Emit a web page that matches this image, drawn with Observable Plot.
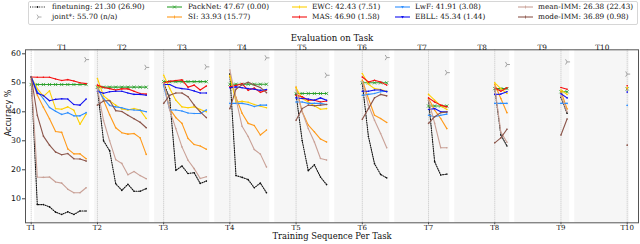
<!DOCTYPE html>
<html><head><meta charset="utf-8">
<script src="https://cdn.jsdelivr.net/npm/d3@7"></script>
<script src="https://cdn.jsdelivr.net/npm/@observablehq/plot@0.6"></script>
<style>
body{margin:0;background:#fff;}
#legend{position:relative;width:640px;height:25px;font-family:"DejaVu Serif";font-size:7.3px;color:#111;}
.box{position:absolute;left:28px;top:1px;width:608px;height:22px;border:1px solid #d6d6d6;border-radius:2px;}
.item{position:absolute;height:10px;line-height:10px;white-space:nowrap;}
.item svg{position:absolute;top:0;}
.item span{position:absolute;top:0;}
#chart svg{display:block;}
</style></head><body>
<div id="legend"><div class="box"></div></div>
<div id="chart"></div>
<script>
const tasks = ["T1","T2","T3","T4","T5","T6","T7","T8","T9","T10"];
const legendLabels = ["finetuning: 21.30 (26.90)","joint*: 55.70 (n/a)","PackNet: 47.67 (0.00)","SI: 33.93 (15.77)","EWC: 42.43 (7.51)","MAS: 46.90 (1.58)","LwF: 41.91 (3.08)","EBLL: 45.34 (1.44)","mean-IMM: 26.38 (22.43)","mode-IMM: 36.89 (0.98)"];

// accuracy on each evaluated task (outer) along the training sequence (inner)
const finetuning = [
 [52.0, 8.0, 8.0, 7.2, 5.4, 4.6, 5.5, 4.6, 5.8, 5.8],
 [48.0, 30.0, 26.6, 15.2, 12.9, 15.0, 12.6, 12.6, 13.5],
 [50.0, 44.5, 19.8, 21.3, 18.7, 19.0, 15.3, 16.1],
 [53.0, 18.0, 17.4, 16.6, 13.8, 15.4, 12.1],
 [46.0, 30.0, 19.7, 21.7, 17.5, 14.9],
 [49.8, 31.5, 22.1, 18.4, 17.2],
 [44.0, 22.8, 18.2, 18.5],
 [48.0, 32.0, 28.2],
 [45.0, 39.5],
 [47.6]
];
const packnet = [
 [49.4, 49.4, 49.4, 49.4, 49.4, 49.4, 49.4, 49.4, 49.4, 49.4],
 [48.5, 48.5, 48.5, 48.5, 48.5, 48.5, 48.5, 48.5, 48.5],
 [50.4, 50.4, 50.4, 50.4, 50.4, 50.4, 50.4, 50.4],
 [49.5, 49.5, 49.5, 49.5, 49.5, 49.5, 49.5],
 [46.3, 46.3, 46.3, 46.3, 46.3, 46.3],
 [50.0, 50.0, 50.0, 50.0, 50.0],
 [42.0, 42.0, 42.0, 42.0],
 [48.0, 48.0, 48.0],
 [46.9, 46.9],
 [47.9]
];
const si = [
 [52.0, 45.8, 41.6, 37.6, 33.2, 32.9, 27.2, 25.5, 25.5, 23.8],
 [49.0, 44.0, 39.0, 34.5, 32.8, 32.3, 32.5, 31.0, 25.3],
 [50.0, 41.0, 38.0, 36.0, 30.8, 28.7, 28.2, 27.1],
 [52.5, 45.0, 39.5, 36.0, 35.3, 32.0, 33.7],
 [48.5, 40.0, 35.4, 33.1, 30.6, 29.6],
 [50.9, 44.6, 38.8, 37.7, 36.3],
 [44.6, 40.6, 37.7, 34.2],
 [49.4, 44.6, 39.7],
 [47.0, 41.0],
 [48.0]
];
const ewc = [
 [52.0, 48.0, 45.3, 47.2, 41.1, 40.9, 41.7, 40.5, 35.7, 39.2],
 [51.5, 45.5, 43.8, 42.3, 41.0, 40.6, 41.1, 40.6, 37.7],
 [52.6, 48.0, 44.0, 41.7, 41.4, 41.7, 40.8, 40.0],
 [52.5, 43.4, 43.6, 43.3, 42.5, 41.9, 41.4],
 [48.2, 44.6, 43.4, 42.1, 40.9, 41.1],
 [53.2, 49.5, 48.0, 47.7, 47.1],
 [46.0, 44.0, 42.1, 40.8],
 [50.0, 48.0, 46.3],
 [47.5, 46.0],
 [48.4]
];
const mas = [
 [52.0, 51.9, 51.9, 51.9, 51.3, 50.8, 51.1, 50.6, 50.0, 49.7],
 [49.2, 48.4, 48.0, 47.5, 47.9, 47.9, 47.1, 46.3, 46.1],
 [50.0, 50.5, 50.8, 51.0, 48.5, 49.2, 47.5, 48.9],
 [48.6, 49.1, 49.7, 47.4, 48.2, 46.7, 47.5],
 [45.7, 45.2, 44.0, 44.0, 43.4, 43.7],
 [52.0, 50.3, 50.9, 50.3, 49.2],
 [44.8, 43.4, 42.3, 41.7],
 [48.3, 47.1, 48.3],
 [48.4, 47.8],
 [49.0]
];
const lwf = [
 [52.0, 47.0, 44.5, 41.5, 40.2, 39.1, 39.7, 38.6, 38.6, 39.7],
 [48.0, 44.6, 42.2, 41.7, 41.4, 40.8, 40.6, 40.5, 40.0],
 [49.0, 40.6, 40.6, 40.3, 39.6, 39.4, 39.4, 40.6],
 [42.9, 42.9, 42.9, 42.5, 41.8, 42.3, 42.3],
 [43.4, 43.4, 42.9, 42.9, 42.9, 42.5],
 [45.7, 46.0, 46.3, 46.9, 47.1],
 [38.8, 38.3, 38.8, 39.2],
 [42.9, 42.9, 42.9],
 [42.9, 42.9],
 [42.2]
];
const ebll = [
 [52.0, 46.4, 45.6, 43.8, 44.3, 44.5, 44.4, 42.5, 42.3, 44.4],
 [47.1, 46.4, 46.9, 47.1, 47.1, 46.5, 46.0, 46.0, 45.7],
 [49.4, 49.4, 48.4, 48.0, 47.8, 47.2, 46.5, 46.5],
 [48.3, 48.6, 48.3, 48.0, 47.8, 47.4, 47.7],
 [44.8, 44.6, 44.4, 44.0, 44.8, 44.0],
 [47.1, 47.1, 47.5, 47.5, 46.9],
 [40.8, 41.1, 40.0, 40.0],
 [46.0, 46.1, 46.9],
 [46.2, 44.8],
 [46.8]
];
const meanImm = [
 [52.0, 17.5, 17.4, 17.5, 15.8, 15.4, 13.3, 12.1, 12.1, 13.8],
 [48.0, 37.0, 30.0, 23.5, 22.2, 18.3, 19.4, 18.0, 16.9],
 [50.0, 40.5, 34.2, 27.9, 23.3, 20.4, 17.0, 17.6],
 [54.4, 44.5, 35.0, 31.5, 27.0, 25.4, 21.0],
 [47.5, 40.0, 34.2, 29.6, 23.9, 23.4],
 [50.3, 42.3, 37.1, 32.5, 27.6],
 [44.0, 36.0, 27.6, 27.6],
 [48.5, 33.0, 29.5],
 [45.5, 40.0],
 [47.6]
];
const modeImm = [
 [52.0, 38.8, 31.6, 28.5, 26.1, 25.2, 25.6, 23.8, 23.7, 23.0],
 [42.3, 43.7, 43.9, 40.4, 40.1, 38.8, 37.6, 36.4, 34.5],
 [42.9, 45.7, 46.5, 46.5, 45.2, 42.3, 40.0, 38.0],
 [41.1, 47.8, 49.3, 50.2, 49.2, 48.4, 46.6],
 [37.1, 41.1, 42.3, 42.1, 42.3, 42.5],
 [37.4, 41.1, 44.8, 46.0, 45.5],
 [36.0, 38.3, 39.7, 39.9],
 [29.3, 31.0, 34.0],
 [32.0, 37.5],
 [28.5]
];
const joint = [58.0, 55.3, 55.5, 58.6, 52.6, 58.7, 53.5, 56.3, 57.2, 53.0];
const yTicks = [10, 20, 30, 40, 50, 60];

// ---- styling / layout ----
const methods = [
 {key:"finetuning", data:finetuning, color:"#111", dash:"1,1.3", mk:"dot", legend:0},
 {key:"PackNet", data:packnet, color:"#2ca02c", mk:"x", legend:2},
 {key:"SI", data:si, color:"#ff9a1a", mk:"tick", legend:3},
 {key:"EWC", data:ewc, color:"#ffd000", mk:"tick", legend:4},
 {key:"MAS", data:mas, color:"#f50f0f", mk:"tick", legend:5},
 {key:"LwF", data:lwf, color:"#2f8fff", mk:"tri", legend:6},
 {key:"EBLL", data:ebll, color:"#1010f0", mk:"tri", legend:7},
 {key:"mean-IMM", data:meanImm, color:"#c9a197", mk:"tick", legend:8},
 {key:"mode-IMM", data:modeImm, color:"#8c564b", mk:"tick", legend:9}
];
const jointColor = "#999";
const step = 6.1/66.22;          // spacing of training steps inside one evaluation block
const pxUnit = 1/66.22;          // one pixel in x units
const panelPeriod = 60*pxUnit, panelWidth = 55*pxUnit, panelOffset = 3.5*pxUnit;

const rows = [];
for (const m of methods) m.data.forEach((vals, t) => vals.forEach((v, j) => rows.push({method:m.key, task:t+1, x:t+1+j*step, y:v})));
const jointRows = joint.map((v, t) => ({x: t+1+(9-t)*step, y: v}));
const panels = tasks.map((d, i) => ({x1: 1+panelOffset+i*panelPeriod, x2: 1+panelOffset+i*panelPeriod+panelWidth, label:d}));

const triRight = {draw(ctx, size){const r=Math.sqrt(size/Math.PI); ctx.moveTo(0,0); ctx.lineTo(r,0); ctx.moveTo(0,0); ctx.lineTo(-r*0.5,-r*0.866); ctx.moveTo(0,0); ctx.lineTo(-r*0.5,r*0.866);}};

const marks = [
 Plot.rect(panels, {x1:"x1", x2:"x2", fill:"#f6f6f6"}),
 Plot.ruleX(d3.range(1, 11), {stroke:"#c4c4c4", strokeWidth:1, strokeDasharray:"1,1"}),
 Plot.axisX({ticks:d3.range(1,11), tickFormat:d=>"T"+d, tickSize:2, tickPadding:0.5, fontSize:7, label:null, stroke:"#444"}),
 Plot.axisY({ticks:yTicks, tickSize:3, tickPadding:1.5, fontSize:7.8, fontFamily:"DejaVu Sans", label:null, stroke:"#444"}),
];
for (const m of methods) {
 const d = rows.filter(r => r.method === m.key);
 marks.push(Plot.line(d, {x:"x", y:"y", z:"task", stroke:m.color, strokeWidth:1.1, strokeDasharray:m.dash}));
 if (m.mk === "x") marks.push(Plot.dot(d, {x:"x", y:"y", symbol:"times", r:1.6, stroke:m.color, strokeWidth:0.8}));
 else marks.push(Plot.dot(d, {x:"x", y:"y", r:0.8, fill:m.color, stroke:null}));
}
marks.push(
 Plot.dot(jointRows, {x:"x", y:"y", symbol:triRight, r:3, stroke:jointColor, strokeWidth:0.9, fill:"none"}),
 Plot.frame({stroke:"#555", strokeWidth:1}),
 Plot.text(["Evaluation on Task"], {frameAnchor:"top", dy:-15.3, fontSize:8.6, text:d=>d}),
 Plot.text(panels, {x:d=>(d.x1+d.x2)/2, frameAnchor:"top", dy:-5.3, fontSize:7.3, text:"label"}),
 Plot.text(["Training Sequence Per Task"], {frameAnchor:"bottom", dy:16.6, fontSize:8.4, text:d=>d}),
 Plot.text(["Accuracy %"], {frameAnchor:"left", dx:-17, rotate:-90, fontSize:8, fontFamily:"DejaVu Sans", text:d=>d})
);

const chart = Plot.plot({
 width:640, height:219,
 marginTop:24.3, marginBottom:21.7, marginLeft:25, marginRight:2,
 x:{type:"linear", domain:[1-5.7*pxUnit, 10+11.3*pxUnit]},
 y:{domain:[1.72, 61.38]},
 style:{fontFamily:"DejaVu Serif", fontSize:"7px", color:"#111", background:"#fff"},
 marks
});
document.getElementById("chart").appendChild(chart);

// ---- legend ----
const legendEntries = [
 {label:legendLabels[0], color:"#111", dash:"1,1.3", mk:"dot"},
 {label:legendLabels[1], color:jointColor, mk:"joint"},
 ...methods.slice(1).map(m => ({label:legendLabels[m.legend], color:m.color, mk:m.mk}))
];
const colX = [30, 167, 292, 395, 518];
const txtX = [52, 188, 312, 415, 538];
const rowY = [1.5, 12];
const leg = document.getElementById("legend");
legendEntries.forEach((e, i) => {
 const c = Math.floor(i/2), r = i%2;
 const item = document.createElement("div");
 item.className = "item";
 item.style.left = colX[c]+"px"; item.style.top = rowY[r]+"px";
 let mk = "";
 if (e.mk === "dot") mk = `<circle cx="7.5" cy="5" r="0.9" fill="${e.color}"/>`;
 else if (e.mk === "x") mk = `<path d="M6 3.5L9 6.5M9 3.5L6 6.5" stroke="${e.color}" stroke-width="0.8"/>`;
 else if (e.mk === "tick") mk = `<path d="M7.5 3.5V6.5" stroke="${e.color}" stroke-width="0.8"/>`;
 else if (e.mk === "tri") mk = `<path d="M6 4H9L7.5 6.5Z" fill="${e.color}"/>`;
 const line = e.mk === "joint" ? `<path d="M8.5 5H11.5M8.5 5L7 2.6M8.5 5L7 7.4" stroke="${e.color}" stroke-width="0.8" fill="none"/>`
   : `<path d="M0 5H15" stroke="${e.color}" stroke-width="1.1" ${e.dash?`stroke-dasharray="${e.dash}"`:""}/>`;
 item.innerHTML = `<svg width="16" height="10">${line}${mk}</svg><span style="left:${txtX[c]-colX[c]}px">${e.label}</span>`;
 leg.appendChild(item);
});
</script>
</body></html>
